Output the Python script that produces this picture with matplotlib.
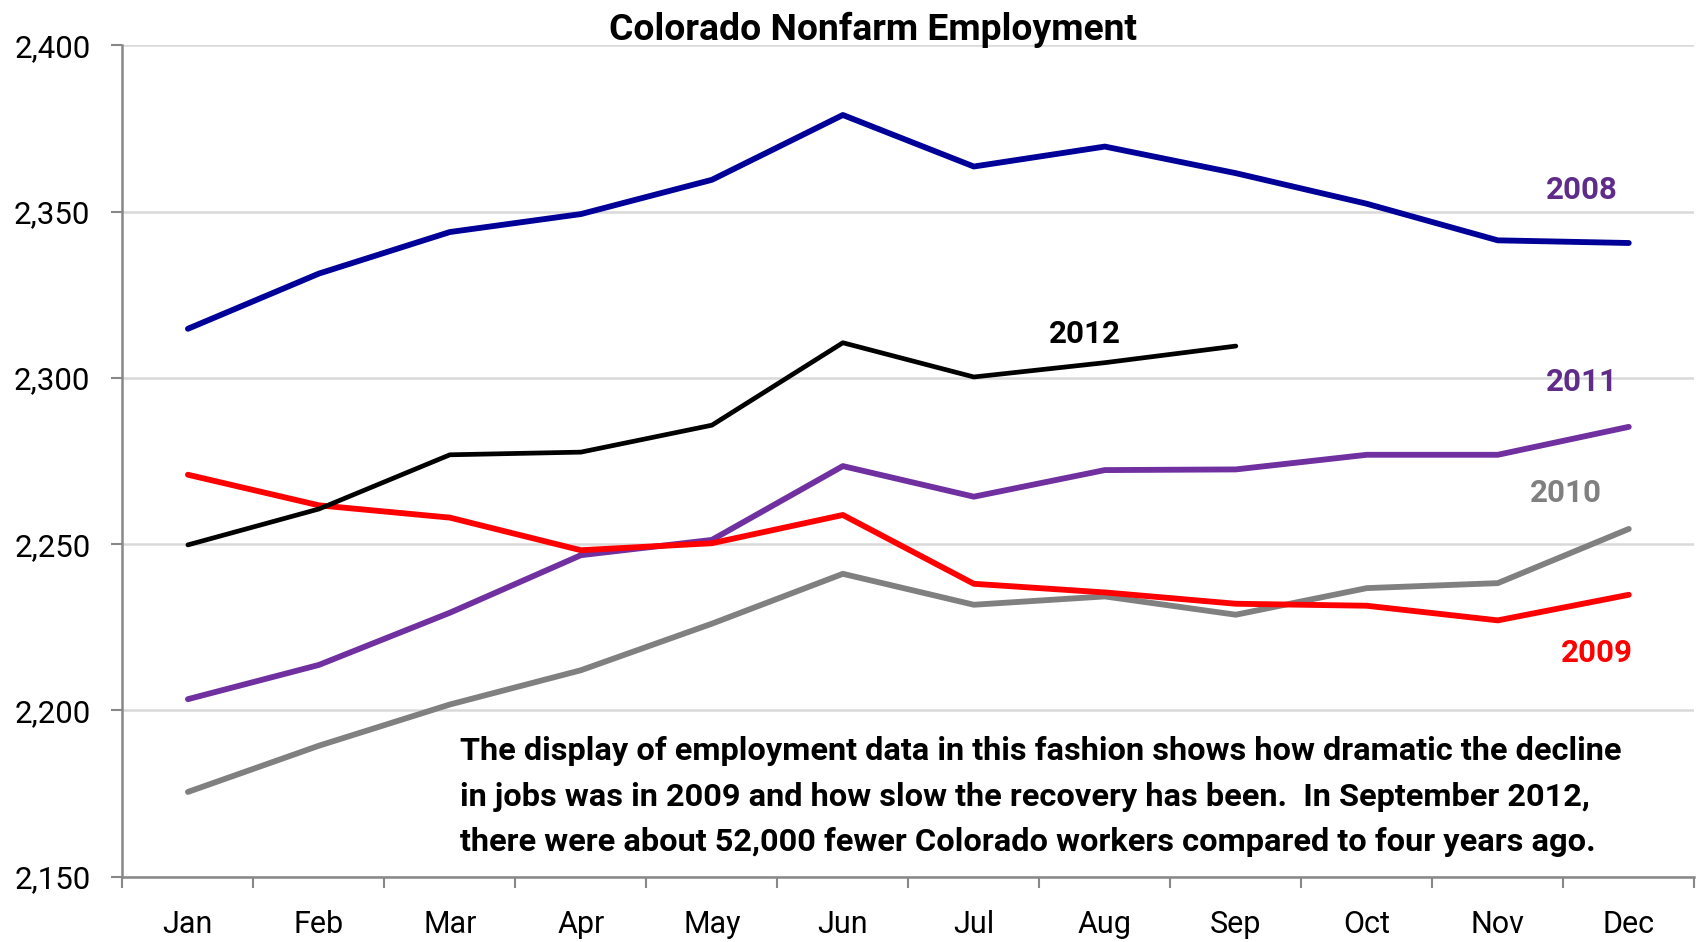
import numpy as np
import matplotlib.pyplot as plt

months = ["Jan", "Feb", "Mar", "Apr", "May", "Jun",
          "Jul", "Aug", "Sep", "Oct", "Nov", "Dec"]

# Colorado nonfarm employment, thousands
emp_2008 = [2314.8, 2331.4, 2343.9, 2349.3, 2359.6, 2379.1,
            2363.6, 2369.6, 2361.6, 2352.4, 2341.4, 2340.6]
emp_2009 = [2270.9, 2261.7, 2258.0, 2248.2, 2250.3, 2258.8,
            2238.1, 2235.5, 2232.1, 2231.5, 2227.1, 2234.8]
emp_2010 = [2175.5, 2189.4, 2201.8, 2212.1, 2226.1, 2241.1,
            2231.8, 2234.3, 2228.8, 2236.8, 2238.3, 2254.6]
emp_2011 = [2203.4, 2213.7, 2229.4, 2246.7, 2251.3, 2273.5,
            2264.3, 2272.3, 2272.5, 2276.9, 2276.9, 2285.3]
emp_2012 = [2249.8, 2260.6, 2276.9, 2277.7, 2285.8, 2310.6,
            2300.3, 2304.6, 2309.6]

yticks = [2150, 2200, 2250, 2300, 2350, 2400]

note_lines = [
    "The display of employment data in this fashion shows how dramatic the decline",
    "in jobs was in 2009 and how slow the recovery has been.  In September 2012,",
    "there were about 52,000 fewer Colorado workers compared to four years ago.",
]

plt.rcParams['font.family'] = ['Roboto', 'DejaVu Sans']

fig = plt.figure(figsize=(16.98, 9.42), dpi=100)
ax = fig.add_axes([0.0721, 0.0693, 0.9257, 0.8824])

x = np.arange(len(months))
ax.plot(x, emp_2008, color="#000099", lw=4.2, solid_capstyle="round")
ax.plot(x, emp_2010, color="#808080", lw=4.2, solid_capstyle="round")
ax.plot(x, emp_2011, color="#7030A0", lw=4.2, solid_capstyle="round")
ax.plot(x, emp_2009, color="#FF0000", lw=4.2, solid_capstyle="round")
ax.plot(x[:len(emp_2012)], emp_2012, color="black", lw=3.4, solid_capstyle="round")

ax.set_xlim(-0.5, 11.5)
ax.set_ylim(2150, 2400)

ax.set_yticks(yticks)
ax.set_yticklabels([f"{v:,}" for v in yticks], fontsize=22.5)
ax.set_xticks(x)
ax.set_xticklabels(months, fontsize=22)
ax.set_xticks(np.arange(-0.5, 12, 1), minor=True)
ax.tick_params(axis="x", which="major", length=0, pad=24)
ax.tick_params(axis="x", which="minor", length=8, width=1.5, color="#888888", direction="out")
ax.tick_params(axis="y", length=8, width=1.5, color="#888888", direction="out", pad=15)

ax.grid(axis="y", color="#D9D9D9", lw=1.8)
ax.set_axisbelow(True)
for s in ["top", "right"]:
    ax.spines[s].set_visible(False)
for s in ["left", "bottom"]:
    ax.spines[s].set_color("#888888")
    ax.spines[s].set_linewidth(1.8)

# year labels next to the lines
lab = dict(fontsize=22.5, fontweight="bold", ha="center", va="center")
ax.text(10.645, 2356.4, "2008", color="#5F2C8A", **lab)
ax.text(6.85, 2313.2, "2012", color="black", **lab)
ax.text(10.64, 2298.9, "2011", color="#5F2C8A", **lab)
ax.text(10.52, 2265.4, "2010", color="#808080", **lab)
ax.text(10.76, 2217.3, "2009", color="#FF0000", **lab)

# note, one line at a time so the baselines are fixed
for i, line in enumerate(note_lines):
    ax.text(2.076, 2185.0 - i * 13.66, line, fontsize=23.4, fontweight="bold",
            ha="left", va="baseline")

fig.text(0.514, 0.9575, "Colorado Nonfarm Employment", fontsize=26.8,
         fontweight="bold", ha="center", va="baseline")

fig.savefig("out.png", dpi=100)
